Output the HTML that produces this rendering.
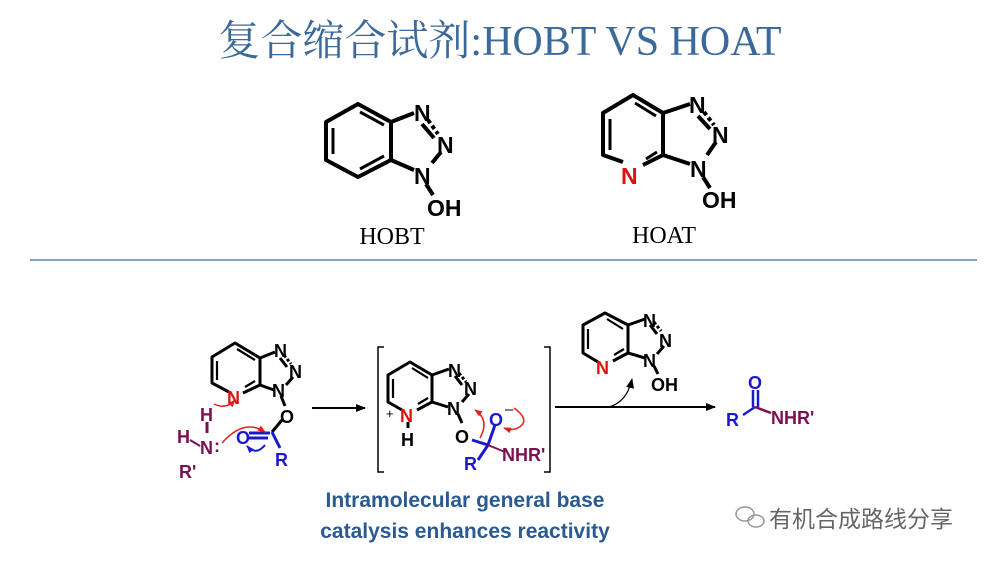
<!DOCTYPE html>
<html><head><meta charset="utf-8"><style>
html,body{margin:0;padding:0;background:#fff}
svg{display:block}
.a{font-family:"Liberation Sans",sans-serif;font-weight:bold}
</style></head><body>
<svg width="990" height="561" viewBox="0 0 990 561" xmlns="http://www.w3.org/2000/svg">
<defs>
<marker id="ah" markerWidth="10" markerHeight="8" refX="9" refY="4" orient="auto" markerUnits="userSpaceOnUse"><path d="M0,0 L10,4 L0,8 z" fill="#000"/></marker>
<marker id="rh" markerWidth="8" markerHeight="6" refX="7" refY="3" orient="auto" markerUnits="userSpaceOnUse"><path d="M0,0 L8,3 L0,6 z" fill="#e02020"/></marker>
<marker id="bh" markerWidth="8" markerHeight="6" refX="7" refY="3" orient="auto" markerUnits="userSpaceOnUse"><path d="M0,0 L8,3 L0,6 z" fill="#1a1acc"/></marker>
</defs>
<text x="500" y="55" text-anchor="middle" font-family="'Liberation Serif','Noto Serif CJK SC',serif" font-size="42" fill="#3b6a9a">复合缩合试剂:HOBT VS HOAT</text>

<!-- HOBT -->
<g stroke="#000" stroke-width="4" fill="none" stroke-linejoin="round">
<polygon points="358,104 391,122 391,160 358,177 326,160 326,122"/>
<line x1="333" y1="128" x2="333" y2="154" stroke-width="3"/>
<line x1="360" y1="112" x2="384" y2="125" stroke-width="3"/>
<line x1="360" y1="169" x2="384" y2="156" stroke-width="3"/>
<line x1="391" y1="122" x2="414" y2="113"/>
<line x1="391" y1="160" x2="414" y2="170"/>
<line x1="428" y1="120" x2="438" y2="134" stroke-dasharray="4,3"/>
<line x1="422" y1="124" x2="434" y2="138"/>
<line x1="441" y1="152" x2="432" y2="163"/>
<line x1="426" y1="184" x2="433" y2="195"/>
</g>
<g class="a" font-size="23" fill="#000">
<text x="414" y="121">N</text><text x="437" y="153">N</text><text x="414" y="184">N</text><text x="427" y="216">OH</text>
</g>
<text x="392" y="244" text-anchor="middle" font-family="'Liberation Serif',serif" font-size="24" fill="#000">HOBT</text>

<!-- HOAT -->
<g stroke="#000" stroke-width="4" fill="none" stroke-linejoin="round">
<polyline points="623,162 603,155 603,113 633,95 663,113 663,155 643,165"/>
<line x1="610" y1="119" x2="610" y2="150" stroke-width="3"/>
<line x1="635" y1="103" x2="656" y2="116" stroke-width="3"/>
<line x1="646" y1="159" x2="657" y2="152" stroke-width="3"/>
<line x1="663" y1="113" x2="690" y2="104"/>
<line x1="663" y1="155" x2="690" y2="164"/>
<line x1="704" y1="112" x2="714" y2="125" stroke-dasharray="4,3"/>
<line x1="698" y1="116" x2="710" y2="129"/>
<line x1="716" y1="142" x2="707" y2="155"/>
<line x1="703" y1="177" x2="710" y2="188"/>
</g>
<g class="a" font-size="23" fill="#000">
<text x="689" y="113">N</text><text x="712" y="143">N</text><text x="690" y="177">N</text><text x="702" y="208">OH</text>
<text x="621" y="184" fill="#e01010">N</text>
</g>
<text x="664" y="243" text-anchor="middle" font-family="'Liberation Serif',serif" font-size="24" fill="#000">HOAT</text>

<line x1="30" y1="260" x2="977" y2="260" stroke="#5a86b4" stroke-width="1.5"/>

<!-- Left molecule -->
<g stroke="#000" stroke-width="3" fill="none" stroke-linejoin="round">
<polyline points="229,392 212,383 212,357 235,343 260,358 260,385 243,393"/>
<line x1="217" y1="361" x2="217" y2="380" stroke-width="2.2"/>
<line x1="237" y1="349" x2="255" y2="360" stroke-width="2.2"/>
<line x1="245" y1="387" x2="255" y2="381" stroke-width="2.2"/>
<line x1="260" y1="358" x2="275" y2="352"/>
<line x1="260" y1="385" x2="274" y2="390"/>
<line x1="284" y1="355" x2="291" y2="364" stroke-dasharray="3,2"/>
<line x1="280" y1="358" x2="287" y2="367"/>
<line x1="293" y1="377" x2="286" y2="385"/>
<line x1="281" y1="396" x2="285" y2="406"/>
<line x1="282" y1="420" x2="272" y2="432"/>
</g>
<g stroke="#1a1acc" stroke-width="3"><line x1="272" y1="432" x2="280" y2="448"/><line x1="249" y1="433" x2="270" y2="433"/><line x1="249" y1="438" x2="268" y2="438"/></g>
<line x1="207" y1="422" x2="207" y2="433" stroke="#7a1050" stroke-width="3"/>
<g class="a" font-size="18">
<text x="274" y="357">N</text><text x="289" y="378">N</text><text x="272" y="397">N</text><text x="280" y="423">O</text>
<text x="227" y="404" fill="#e01010">N</text>
<text x="236" y="444" fill="#1a1acc">O</text><text x="275" y="466" fill="#1a1acc">R</text>
<g fill="#7a1050"><text x="200" y="421">H</text><text x="200" y="454">N</text><text x="177" y="443">H</text><text x="179" y="478">R'</text><text x="214" y="452">:</text></g>
</g>
<line x1="190" y1="440" x2="200" y2="446" stroke="#7a1050" stroke-width="2"/>
<path d="M214,404 Q226,410 235,400" stroke="#e02020" stroke-width="1.5" fill="none" marker-end="url(#rh)"/>
<path d="M222,443 Q244,418 265,432" stroke="#e02020" stroke-width="1.5" fill="none" marker-end="url(#rh)"/>
<path d="M265,445 Q256,456 247,446" stroke="#1a1acc" stroke-width="2" fill="none" marker-end="url(#bh)"/>

<line x1="312" y1="408" x2="365" y2="408" stroke="#000" stroke-width="2" marker-end="url(#ah)"/>

<!-- brackets -->
<polyline points="384,347 378,347 378,472 384,472" stroke="#000" stroke-width="1.5" fill="none"/>
<polyline points="544,347 550,347 550,472 544,472" stroke="#000" stroke-width="1.5" fill="none"/>

<!-- Middle molecule -->
<g stroke="#000" stroke-width="3" fill="none" stroke-linejoin="round">
<polyline points="402,410 388,402 388,375 410,362 432,375 432,402 417,410"/>
<line x1="393" y1="379" x2="393" y2="398" stroke-width="2.2"/>
<line x1="412" y1="368" x2="428" y2="378" stroke-width="2.2"/>
<line x1="418" y1="404" x2="428" y2="398" stroke-width="2.2"/>
<line x1="432" y1="375" x2="449" y2="369"/>
<line x1="432" y1="402" x2="448" y2="407"/>
<line x1="459" y1="373" x2="466" y2="382" stroke-dasharray="3,2"/>
<line x1="455" y1="376" x2="462" y2="385"/>
<line x1="469" y1="394" x2="462" y2="402"/>
<line x1="458" y1="414" x2="462" y2="423"/>
<line x1="408" y1="422" x2="408" y2="428"/>
</g>
<g stroke="#1a1acc" stroke-width="3"><line x1="472" y1="440" x2="488" y2="445"/><line x1="488" y1="445" x2="495" y2="425"/><line x1="488" y1="445" x2="478" y2="460"/></g>
<line x1="488" y1="445" x2="505" y2="452" stroke="#7a1050" stroke-width="2"/>
<g class="a" font-size="18">
<text x="448" y="377">N</text><text x="464" y="395">N</text><text x="447" y="415">N</text><text x="455" y="443">O</text>
<text x="400" y="422" fill="#e01010">N</text><text x="401" y="446" fill="#000">H</text>
<text x="489" y="426" fill="#1a1acc">O</text><text x="464" y="470" fill="#1a1acc">R</text>
<text x="502" y="461" fill="#7a1050">NHR'</text>
</g>
<text x="386" y="418" font-family="Liberation Sans" font-size="13">+</text>
<text x="505" y="414" font-family="Liberation Sans" font-size="15">–</text>
<path d="M480,438 Q490,420 475,410" stroke="#e02020" stroke-width="1.5" fill="none" marker-end="url(#rh)"/>
<path d="M514,408 Q528,418 522,425 Q515,432 504,428" stroke="#e02020" stroke-width="1.5" fill="none" marker-end="url(#rh)"/>

<!-- Arrow right + HOAt -->
<line x1="555" y1="407" x2="715" y2="407" stroke="#000" stroke-width="2" marker-end="url(#ah)"/>
<path d="M609,407 Q627,402 632,379" stroke="#000" stroke-width="1.2" fill="none" marker-end="url(#ah)"/>
<g stroke="#000" stroke-width="3" fill="none" stroke-linejoin="round">
<polyline points="598,362 583,353 583,325 605,313 628,325 628,353 613,361"/>
<line x1="588" y1="329" x2="588" y2="349" stroke-width="2.2"/>
<line x1="607" y1="319" x2="623" y2="329" stroke-width="2.2"/>
<line x1="614" y1="355" x2="624" y2="349" stroke-width="2.2"/>
<line x1="628" y1="325" x2="645" y2="319"/>
<line x1="628" y1="353" x2="645" y2="358"/>
<line x1="654" y1="322" x2="661" y2="331" stroke-dasharray="3,2"/>
<line x1="650" y1="325" x2="657" y2="334"/>
<line x1="664" y1="346" x2="657" y2="354"/>
<line x1="654" y1="366" x2="658" y2="374"/>
</g>
<g class="a" font-size="18">
<text x="643" y="327">N</text><text x="659" y="347">N</text><text x="643" y="367">N</text><text x="651" y="391">OH</text>
<text x="596" y="374" fill="#e01010">N</text>
</g>

<!-- Amide -->
<g stroke="#1a1acc" stroke-width="2.5"><line x1="743" y1="415" x2="755" y2="407"/><line x1="753" y1="390" x2="753" y2="407"/><line x1="758" y1="390" x2="758" y2="407"/></g>
<line x1="755" y1="407" x2="771" y2="413" stroke="#7a1050" stroke-width="2.5"/>
<g class="a" font-size="18">
<text x="726" y="426" fill="#1a1acc">R</text><text x="748" y="389" fill="#1a1acc">O</text><text x="771" y="424" fill="#7a1050">NHR'</text>
</g>

<g font-family="'Liberation Sans',sans-serif" font-weight="bold" font-size="21" fill="#2a5a90" text-anchor="middle">
<text x="465" y="507">Intramolecular general base</text>
<text x="465" y="538">catalysis enhances reactivity</text>
</g>

<!-- watermark -->
<g stroke="#999" stroke-width="1.5" fill="none"><ellipse cx="745" cy="514" rx="9" ry="7"/><ellipse cx="756" cy="521" rx="8" ry="6"/></g>
<text x="769" y="527" font-family="'Liberation Sans','Noto Sans CJK SC',sans-serif" font-size="23" fill="#666">有机合成路线分享</text>
</svg>
</body></html>
